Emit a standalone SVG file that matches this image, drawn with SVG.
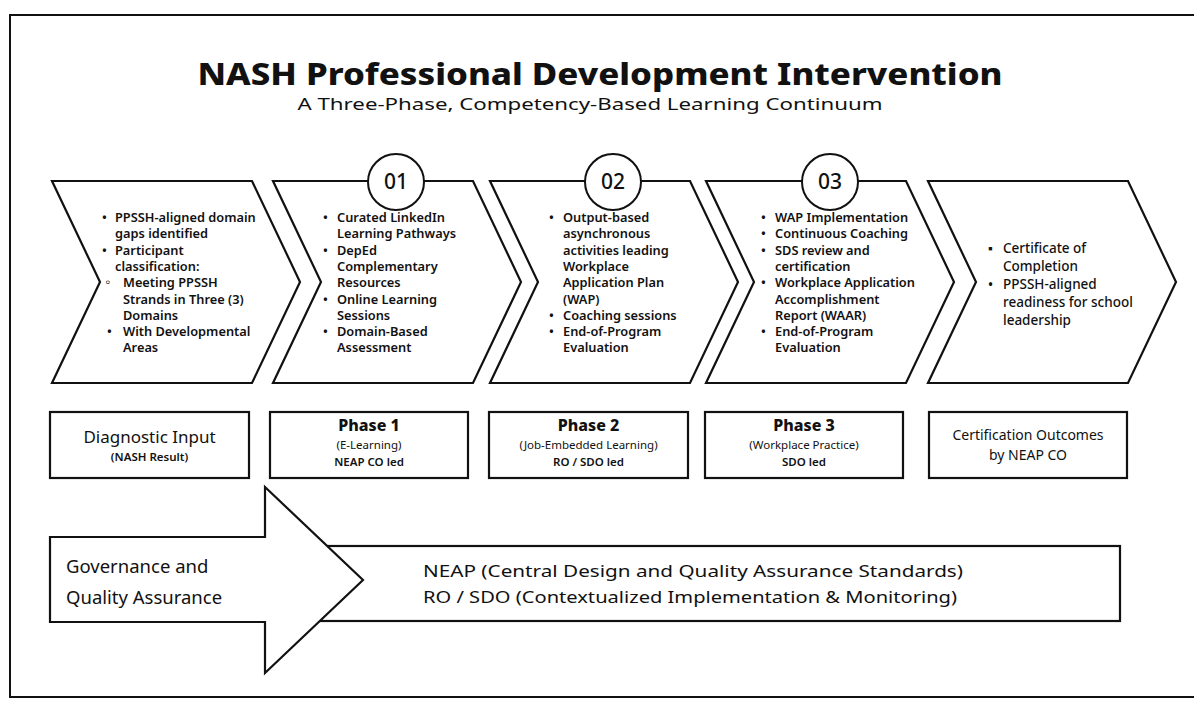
<svg xmlns="http://www.w3.org/2000/svg" width="1194" height="707" viewBox="0 0 1194 707">
<style>
.frame{fill:none;stroke:#111;stroke-width:2}
.shape{fill:#fff;stroke:#111;stroke-width:2.2;stroke-linejoin:miter}
.circ{fill:#fff;stroke:#111;stroke-width:2}
.title{font-family:"Noto Sans","Liberation Sans",sans-serif;font-weight:800;font-size:30px;fill:#111;text-anchor:middle}
.sub{font-family:"Noto Sans","Liberation Sans",sans-serif;font-size:17px;fill:#111;text-anchor:middle}
.b{font-family:"Noto Sans","Liberation Sans",sans-serif;font-weight:600;font-size:12.8px;fill:#111}
.ob{font-size:15px;font-weight:700}
.b5{font-family:"Noto Sans","Liberation Sans",sans-serif;font-weight:500;font-size:13.5px;fill:#111}
.num{font-family:"Noto Sans","Liberation Sans",sans-serif;font-weight:500;font-size:21px;fill:#111;text-anchor:middle}
.bx1{font-family:"Noto Sans","Liberation Sans",sans-serif;font-size:17px;fill:#111;text-anchor:middle}
.bxh{font-family:"Noto Sans","Liberation Sans",sans-serif;font-weight:800;font-size:16px;fill:#111;text-anchor:middle}
.bxs{font-family:"Noto Sans","Liberation Sans",sans-serif;font-size:11.5px;fill:#111;text-anchor:middle}
.bxb{font-family:"Noto Sans","Liberation Sans",sans-serif;font-weight:600;font-size:11.5px;fill:#111;text-anchor:middle}
.bxc{font-family:"Noto Sans","Liberation Sans",sans-serif;font-size:14px;fill:#111;text-anchor:middle}
.gov{font-family:"Noto Sans","Liberation Sans",sans-serif;font-size:18.5px;fill:#111}
.gov2{font-family:"Noto Sans","Liberation Sans",sans-serif;font-size:17px;fill:#111;text-anchor:middle}
</style>
<rect x="0" y="0" width="1194" height="707" fill="#fff"/>
<rect class="frame" x="10" y="15" width="1200" height="682"/>

<g id="title">
<text class="title" x="600" y="85" textLength="805" lengthAdjust="spacingAndGlyphs">NASH Professional Development Intervention</text>
<text class="sub" x="590" y="110" textLength="585" lengthAdjust="spacingAndGlyphs">A Three-Phase, Competency-Based Learning Continuum</text>
</g>

<g id="chevron-diagnostic">
<polygon class="shape" points="52,181 252,181 300,282 252,383 52,383 100,282"/>
<text class="b">
<tspan x="102" y="222">•</tspan><tspan x="115" y="222">PPSSH-aligned domain</tspan>
<tspan x="115" y="238.3">gaps identified</tspan>
<tspan x="102" y="254.6">•</tspan><tspan x="115" y="254.6">Participant</tspan>
<tspan x="115" y="270.9">classification:</tspan>
<tspan class="ob" x="105" y="287.2">◦</tspan><tspan x="123" y="287.2">Meeting PPSSH</tspan>
<tspan x="123" y="303.5">Strands in Three (3)</tspan>
<tspan x="123" y="319.8">Domains</tspan>
<tspan x="107" y="336.1">•</tspan><tspan x="123" y="336.1">With Developmental</tspan>
<tspan x="123" y="352.4">Areas</tspan>
</text>
</g>

<g id="chevron-phase1">
<polygon class="shape" points="273,181 473,181 521,282 473,383 273,383 321,282"/>
<circle class="circ" cx="396" cy="182" r="28"/>
<text class="num" x="396" y="189">01</text>
<text class="b">
<tspan x="323" y="222">•</tspan><tspan x="337" y="222">Curated LinkedIn</tspan>
<tspan x="337" y="238.3">Learning Pathways</tspan>
<tspan x="323" y="254.6">•</tspan><tspan x="337" y="254.6">DepEd</tspan>
<tspan x="337" y="270.9">Complementary</tspan>
<tspan x="337" y="287.2">Resources</tspan>
<tspan x="323" y="303.5">•</tspan><tspan x="337" y="303.5">Online Learning</tspan>
<tspan x="337" y="319.8">Sessions</tspan>
<tspan x="323" y="336.1">•</tspan><tspan x="337" y="336.1">Domain-Based</tspan>
<tspan x="337" y="352.4">Assessment</tspan>
</text>
</g>

<g id="chevron-phase2">
<polygon class="shape" points="490,181 690,181 738,282 690,383 490,383 538,282"/>
<circle class="circ" cx="613" cy="182" r="28"/>
<text class="num" x="613" y="189">02</text>
<text class="b">
<tspan x="549" y="222">•</tspan><tspan x="563" y="222">Output-based</tspan>
<tspan x="563" y="238.3">asynchronous</tspan>
<tspan x="563" y="254.6">activities leading</tspan>
<tspan x="563" y="270.9">Workplace</tspan>
<tspan x="563" y="287.2">Application Plan</tspan>
<tspan x="563" y="303.5">(WAP)</tspan>
<tspan x="549" y="319.8">•</tspan><tspan x="563" y="319.8">Coaching sessions</tspan>
<tspan x="549" y="336.1">•</tspan><tspan x="563" y="336.1">End-of-Program</tspan>
<tspan x="563" y="352.4">Evaluation</tspan>
</text>
</g>

<g id="chevron-phase3">
<polygon class="shape" points="706,181 906,181 954,282 906,383 706,383 754,282"/>
<circle class="circ" cx="830" cy="182" r="28"/>
<text class="num" x="830" y="189">03</text>
<text class="b">
<tspan x="761" y="222">•</tspan><tspan x="775" y="222">WAP Implementation</tspan>
<tspan x="761" y="238.3">•</tspan><tspan x="775" y="238.3">Continuous Coaching</tspan>
<tspan x="761" y="254.6">•</tspan><tspan x="775" y="254.6">SDS review and</tspan>
<tspan x="775" y="270.9">certification</tspan>
<tspan x="761" y="287.2">•</tspan><tspan x="775" y="287.2">Workplace Application</tspan>
<tspan x="775" y="303.5">Accomplishment</tspan>
<tspan x="775" y="319.8">Report (WAAR)</tspan>
<tspan x="761" y="336.1">•</tspan><tspan x="775" y="336.1">End-of-Program</tspan>
<tspan x="775" y="352.4">Evaluation</tspan>
</text>
</g>

<g id="chevron-outcomes">
<polygon class="shape" points="928,181 1128,181 1176,282 1128,383 928,383 976,282"/>
<text class="b5">
<tspan x="988" y="253">▪</tspan><tspan x="1003" y="253">Certificate of</tspan>
<tspan x="1003" y="271">Completion</tspan>
<tspan x="988" y="289">•</tspan><tspan x="1003" y="289">PPSSH-aligned</tspan>
<tspan x="1003" y="307">readiness for school</tspan>
<tspan x="1003" y="325">leadership</tspan>
</text>
</g>

<g id="label-diagnostic">
<rect class="shape" x="50" y="412" width="199" height="66"/>
<text class="bx1" x="149.5" y="443">Diagnostic Input</text>
<text class="bxb" x="149.5" y="461">(NASH Result)</text>
</g>

<g id="label-phase1">
<rect class="shape" x="270" y="412" width="198" height="66"/>
<text class="bxh" x="369" y="431">Phase 1</text>
<text class="bxs" x="369" y="449">(E-Learning)</text>
<text class="bxb" x="369" y="466">NEAP CO led</text>
</g>

<g id="label-phase2">
<rect class="shape" x="489" y="412" width="199" height="66"/>
<text class="bxh" x="588.5" y="431">Phase 2</text>
<text class="bxs" x="588.5" y="449">(Job-Embedded Learning)</text>
<text class="bxb" x="588.5" y="466">RO / SDO led</text>
</g>

<g id="label-phase3">
<rect class="shape" x="705" y="412" width="198" height="66"/>
<text class="bxh" x="804" y="431">Phase 3</text>
<text class="bxs" x="804" y="449">(Workplace Practice)</text>
<text class="bxb" x="804" y="466">SDO led</text>
</g>

<g id="label-outcomes">
<rect class="shape" x="929" y="412" width="198" height="66"/>
<text class="bxc" x="1028" y="440">Certification Outcomes</text>
<text class="bxc" x="1028" y="460">by NEAP CO</text>
</g>

<g id="governance">
<rect class="shape" x="300" y="546" width="820" height="75"/>
<polygon class="shape" points="50,537 265,537 265,487 363,580 265,673 265,622 50,622"/>
<text class="gov"><tspan x="66" y="573">Governance and</tspan><tspan x="66" y="604">Quality Assurance</tspan></text>
<text class="gov2"><tspan x="693" y="577" textLength="540" lengthAdjust="spacingAndGlyphs">NEAP (Central Design and Quality Assurance Standards)</tspan><tspan x="690" y="603" textLength="534" lengthAdjust="spacingAndGlyphs">RO / SDO (Contextualized Implementation &amp; Monitoring)</tspan></text>
</g>

<g id="connectors"/>
</svg>
